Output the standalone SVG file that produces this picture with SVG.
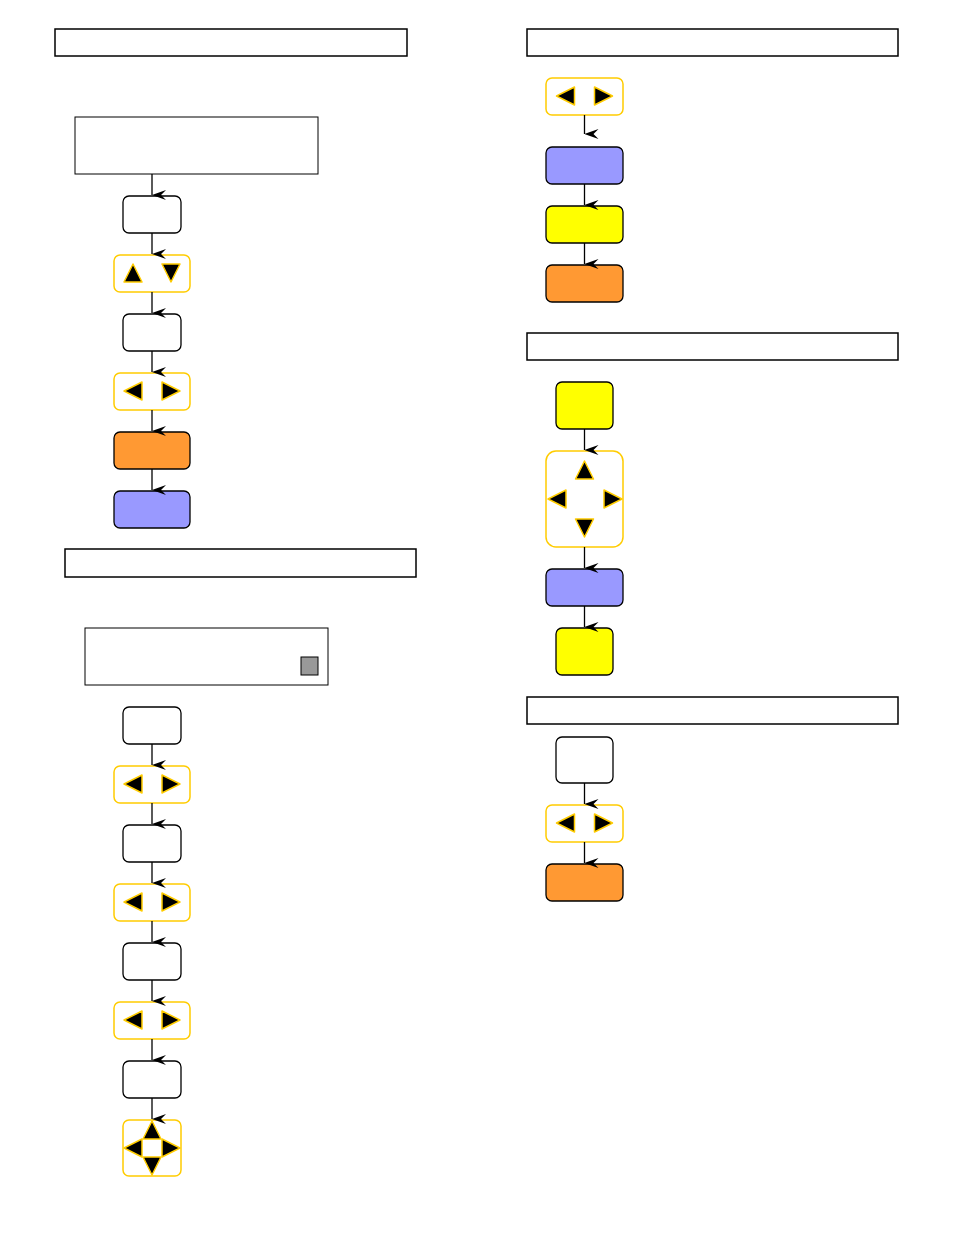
<svg xmlns="http://www.w3.org/2000/svg" width="954" height="1235" viewBox="0 0 954 1235">
<style>
.hd{fill:#fff;stroke:#000;stroke-width:1.5}
.pn{fill:#fff;stroke:#000;stroke-width:1}
.wb{fill:#fff;stroke:#000;stroke-width:1.3}
.yk{fill:#fff;stroke:#ffcc00;stroke-width:1.5}
.or{fill:#ff9933;stroke:#000;stroke-width:1.3}
.bl{fill:#9999ff;stroke:#000;stroke-width:1.3}
.ye{fill:#ffff00;stroke:#000;stroke-width:1.3}
.tri{fill:#000;stroke:#ffcc00;stroke-width:1.5;stroke-linejoin:round}
.cn line{stroke:#000;stroke-width:1.3}
</style>
<defs>
<marker id="ah" markerUnits="userSpaceOnUse" markerWidth="10" markerHeight="14" refX="5" refY="14" orient="auto-start-reverse" viewBox="0 0 10 14">
<path d="M0,0 L5,14 L10,0 L5,5 Z" fill="#000"/>
</marker>
<g id="lr"><polygon class="tri" points="-28,0 -10,-9 -10,9"/><polygon class="tri" points="28,0 10,-9 10,9"/></g>
</defs>
<rect width="954" height="1235" fill="#fff"/>

<g id="h1"><rect class="hd" x="55" y="29" width="352" height="27"/></g>
<g id="p1"><rect class="pn" x="75" y="117" width="243" height="57"/></g>
<g id="n1"><rect class="wb" x="123" y="196" width="58" height="37" rx="6"/></g>
<g id="n2"><rect class="yk" x="114" y="255" width="76" height="37" rx="6"/>
<polygon class="tri" points="133,264 142,282 124,282"/><polygon class="tri" points="171,282 162,264 180,264"/></g>
<g id="n3"><rect class="wb" x="123" y="314" width="58" height="37" rx="6"/></g>
<g id="n4"><rect class="yk" x="114" y="373" width="76" height="37" rx="6"/><use href="#lr" x="152" y="391"/></g>
<g id="n5"><rect class="or" x="114" y="432" width="76" height="37" rx="6"/></g>
<g id="n6"><rect class="bl" x="114" y="491" width="76" height="37" rx="6"/></g>

<g id="h2"><rect class="hd" x="65" y="549" width="351" height="28"/></g>
<g id="p2"><rect class="pn" x="85" y="628" width="243" height="57"/><rect x="301" y="657" width="17" height="18" fill="#999" stroke="#000" stroke-width="1"/></g>
<g id="m1"><rect class="wb" x="123" y="707" width="58" height="37" rx="6"/></g>
<g id="m2"><rect class="yk" x="114" y="766" width="76" height="37" rx="6"/><use href="#lr" x="152" y="784"/></g>
<g id="m3"><rect class="wb" x="123" y="825" width="58" height="37" rx="6"/></g>
<g id="m4"><rect class="yk" x="114" y="884" width="76" height="37" rx="6"/><use href="#lr" x="152" y="902"/></g>
<g id="m5"><rect class="wb" x="123" y="943" width="58" height="37" rx="6"/></g>
<g id="m6"><rect class="yk" x="114" y="1002" width="76" height="37" rx="6"/><use href="#lr" x="152" y="1020"/></g>
<g id="m7"><rect class="wb" x="123" y="1061" width="58" height="37" rx="6"/></g>
<g id="m8"><rect class="yk" x="123" y="1120" width="58" height="56" rx="6"/>
<polygon class="tri" points="152,1121 161,1139 143,1139"/>
<polygon class="tri" points="152,1175 161,1157 143,1157"/>
<polygon class="tri" points="124,1148 142,1139 142,1157"/>
<polygon class="tri" points="180,1148 162,1139 162,1157"/></g>

<g id="h3"><rect class="hd" x="527" y="29" width="371" height="27"/></g>
<g id="r1"><rect class="yk" x="546" y="78" width="77" height="37" rx="6"/><use href="#lr" x="584.5" y="96"/></g>
<g id="r2"><rect class="bl" x="546" y="147" width="77" height="37" rx="6"/></g>
<g id="r3"><rect class="ye" x="546" y="206" width="77" height="37" rx="6"/></g>
<g id="r4"><rect class="or" x="546" y="265" width="77" height="37" rx="6"/></g>

<g id="h4"><rect class="hd" x="527" y="333" width="371" height="27"/></g>
<g id="s1"><rect class="ye" x="556" y="382" width="57" height="47" rx="6"/></g>
<g id="s2"><rect class="yk" x="546" y="451" width="77" height="96" rx="10"/>
<polygon class="tri" points="584.5,461 593.5,479 575.5,479"/>
<polygon class="tri" points="584.5,537 593.5,519 575.5,519"/>
<polygon class="tri" points="548,499 566,490 566,508"/>
<polygon class="tri" points="622,499 604,490 604,508"/></g>
<g id="s3"><rect class="bl" x="546" y="569" width="77" height="37" rx="6"/></g>
<g id="s4"><rect class="ye" x="556" y="628" width="57" height="47" rx="6"/></g>

<g id="h5"><rect class="hd" x="527" y="697" width="371" height="27"/></g>
<g id="t1"><rect class="wb" x="556" y="737" width="57" height="46" rx="6"/></g>
<g id="t2"><rect class="yk" x="546" y="805" width="77" height="37" rx="6"/><use href="#lr" x="584.5" y="823"/></g>
<g id="t3"><rect class="or" x="546" y="864" width="77" height="37" rx="6"/></g>

<g class="cn" id="connectors" marker-end="url(#ah)">
<line x1="152" y1="174" x2="152" y2="195" marker-end="url(#ah)"/>
<line x1="152" y1="233" x2="152" y2="254" marker-end="url(#ah)"/>
<line x1="152" y1="292" x2="152" y2="313" marker-end="url(#ah)"/>
<line x1="152" y1="351" x2="152" y2="372" marker-end="url(#ah)"/>
<line x1="152" y1="410" x2="152" y2="431" marker-end="url(#ah)"/>
<line x1="152" y1="469" x2="152" y2="490" marker-end="url(#ah)"/>
<line x1="152" y1="744" x2="152" y2="765" marker-end="url(#ah)"/>
<line x1="152" y1="803" x2="152" y2="824" marker-end="url(#ah)"/>
<line x1="152" y1="862" x2="152" y2="883" marker-end="url(#ah)"/>
<line x1="152" y1="921" x2="152" y2="942" marker-end="url(#ah)"/>
<line x1="152" y1="980" x2="152" y2="1001" marker-end="url(#ah)"/>
<line x1="152" y1="1039" x2="152" y2="1060" marker-end="url(#ah)"/>
<line x1="152" y1="1098" x2="152" y2="1119" marker-end="url(#ah)"/>
<line x1="584.5" y1="115" x2="584.5" y2="134" marker-end="url(#ah)"/>
<line x1="584.5" y1="184" x2="584.5" y2="205" marker-end="url(#ah)"/>
<line x1="584.5" y1="243" x2="584.5" y2="264" marker-end="url(#ah)"/>
<line x1="584.5" y1="429" x2="584.5" y2="450" marker-end="url(#ah)"/>
<line x1="584.5" y1="547" x2="584.5" y2="568" marker-end="url(#ah)"/>
<line x1="584.5" y1="606" x2="584.5" y2="627" marker-end="url(#ah)"/>
<line x1="584.5" y1="783" x2="584.5" y2="804" marker-end="url(#ah)"/>
<line x1="584.5" y1="842" x2="584.5" y2="863" marker-end="url(#ah)"/>
</g>
</svg>
